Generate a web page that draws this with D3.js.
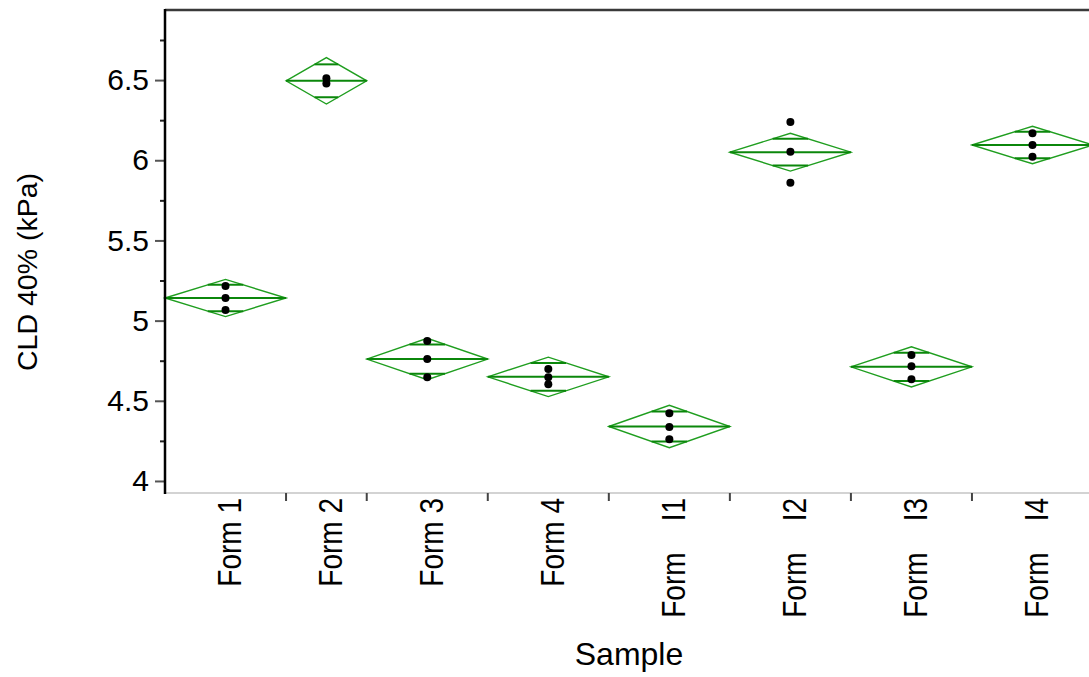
<!DOCTYPE html>
<html>
<head>
<meta charset="utf-8">
<script src="https://cdn.jsdelivr.net/npm/d3@7"></script>
<style>
  html, body { margin: 0; padding: 0; background: #fff; }
  svg { display: block; }
  text { font-family: "Liberation Sans", Arial, sans-serif; fill: #000; }
</style>
</head>
<body>
<svg id="chart" width="1089" height="677"></svg>
<script>
// Sample groups (x axis), in plotting order
const categories = ["Form 1", "Form 2", "Form 3", "Form 4",
                    "Form    I1", "Form    I2", "Form    I3", "Form    I4"];

// Individual CLD 40% measurements (kPa) for each sample
const samples = [
  [5.216, 5.141, 5.066],
  [6.512, 6.479],
  [4.873, 4.761, 4.647],
  [4.698, 4.647, 4.603],
  [4.422, 4.337, 4.260],
  [6.238, 6.053, 5.860],
  [4.785, 4.715, 4.635],
  [6.168, 6.095, 6.022]
];

// Half-height of each means diamond (95% confidence interval of the mean)
const ciHalf = [0.116, 0.145, 0.129, 0.123, 0.132, 0.118, 0.125, 0.117];

// Axis ticks
const yMajorTicks = [4, 4.5, 5, 5.5, 6, 6.5];
const yMinorTicks = [4.25, 4.75, 5.25, 5.75, 6.25, 6.75];
const yTitle = "CLD 40% (kPa)";
const xTitle = "Sample";

const svg = d3.select("#chart");
const plotLeft = 165, plotTop = 10, plotBottom = 493, plotRight = 1093;

// Each group's width along x is proportional to its number of observations
const counts = samples.map(s => s.length);
const starts = counts.map((c, i) => d3.sum(counts.slice(0, i)));
const total = d3.sum(counts);

const x = d3.scaleLinear().domain([0, total]).range([plotLeft, plotRight]);
const y = d3.scaleLinear().domain([3.925, 6.937]).range([plotBottom, plotTop]);

const green = "#1f9e1f";
const darkGreen = "#0b870b";

const groups = samples.map((pts, i) => ({
  name: categories[i],
  pts,
  mean: d3.mean(pts),
  half: ciHalf[i],
  x0: x(starts[i]),
  x1: x(starts[i] + counts[i]),
  xc: x(starts[i] + counts[i] / 2)
}));

const plot = svg.append("g");

// Means diamonds
plot.selectAll("path.diamond")
  .data(groups)
  .join("path")
  .attr("class", "diamond")
  .attr("d", g => {
    const p = d3.path();
    p.moveTo(g.x0, y(g.mean));
    p.lineTo(g.xc, y(g.mean + g.half));
    p.lineTo(g.x1, y(g.mean));
    p.lineTo(g.xc, y(g.mean - g.half));
    p.closePath();
    return p.toString();
  })
  .attr("fill", "none")
  .attr("stroke", green)
  .attr("stroke-width", 1.4);

// Mean line across the diamond
plot.selectAll("line.mean")
  .data(groups)
  .join("line")
  .attr("class", "mean")
  .attr("x1", g => g.x0).attr("x2", g => g.x1)
  .attr("y1", g => y(g.mean)).attr("y2", g => y(g.mean))
  .attr("stroke", darkGreen)
  .attr("stroke-width", 2);

// Overlap marks at mean ± half * sqrt(2)/2
const overlap = [];
groups.forEach(g => {
  const k = Math.SQRT1_2;
  const hw = (g.x1 - g.x0) / 2 * (1 - k);
  [1, -1].forEach(s => overlap.push({ v: g.mean + s * g.half * k, xa: g.xc - hw, xb: g.xc + hw }));
});
plot.selectAll("line.overlap")
  .data(overlap)
  .join("line")
  .attr("class", "overlap")
  .attr("x1", d => d.xa).attr("x2", d => d.xb)
  .attr("y1", d => y(d.v)).attr("y2", d => y(d.v))
  .attr("stroke", darkGreen)
  .attr("stroke-width", 2);

// Observations
const dots = groups.flatMap(g => g.pts.map(v => ({ xc: g.xc, v })));
plot.selectAll("circle.obs")
  .data(dots)
  .join("circle")
  .attr("class", "obs")
  .attr("cx", d => d.xc)
  .attr("cy", d => y(d.v))
  .attr("r", 4)
  .attr("fill", "#000");

// Frame: top border, bottom axis line
svg.append("line")
  .attr("x1", plotLeft).attr("x2", 1089).attr("y1", plotTop).attr("y2", plotTop)
  .attr("stroke", "#3a3a3a").attr("stroke-width", 2.5);
svg.append("line")
  .attr("x1", plotLeft).attr("x2", 1089).attr("y1", plotBottom).attr("y2", plotBottom)
  .attr("stroke", "#c4c4c4").attr("stroke-width", 1.5);

// Y axis: major ticks with labels, minor ticks without
const yAxis = svg.append("g")
  .attr("transform", `translate(${plotLeft},0)`)
  .call(d3.axisLeft(y).tickValues(yMajorTicks).tickSize(10).tickPadding(6)
    .tickFormat(d3.format("~g")));
yAxis.select(".domain").remove();
yAxis.selectAll(".tick line").attr("stroke", "#555").attr("stroke-width", 2);
yAxis.selectAll(".tick text")
  .style("font-family", "\"Liberation Sans\", Arial, sans-serif")
  .style("font-size", "30px")
  .attr("fill", "#000");

const yMinor = svg.append("g")
  .attr("transform", `translate(${plotLeft},0)`)
  .call(d3.axisLeft(y).tickValues(yMinorTicks).tickSize(5).tickFormat(""));
yMinor.select(".domain").remove();
yMinor.selectAll(".tick line").attr("stroke", "#222").attr("stroke-width", 2);

svg.append("line")
  .attr("x1", plotLeft).attr("x2", plotLeft).attr("y1", plotTop - 1).attr("y2", plotBottom + 1)
  .attr("stroke", "#000").attr("stroke-width", 2.5);

// X axis: separators between groups and rotated group labels
svg.selectAll("line.xsep")
  .data(groups.slice(1))
  .join("line")
  .attr("class", "xsep")
  .attr("x1", g => g.x0).attr("x2", g => g.x0)
  .attr("y1", plotBottom).attr("y2", plotBottom + 8)
  .attr("stroke", "#444").attr("stroke-width", 2);

svg.selectAll("text.xlab")
  .data(groups)
  .join("text")
  .attr("class", "xlab")
  .attr("transform", g => `translate(${g.xc + 4},${plotBottom + 5}) rotate(-90) scale(1,1.2)`)
  .attr("text-anchor", "end")
  .attr("dominant-baseline", "central")
  .style("font-size", "28px")
  .style("white-space", "pre")
  .text(g => g.name);

// Axis titles
svg.append("text")
  .attr("x", 629).attr("y", 665)
  .attr("text-anchor", "middle")
  .style("font-size", "32px")
  .text(xTitle);

svg.append("text")
  .attr("transform", "translate(37,272) rotate(-90)")
  .attr("text-anchor", "middle")
  .style("font-size", "28.5px")
  .text(yTitle);
</script>
</body>
</html>
